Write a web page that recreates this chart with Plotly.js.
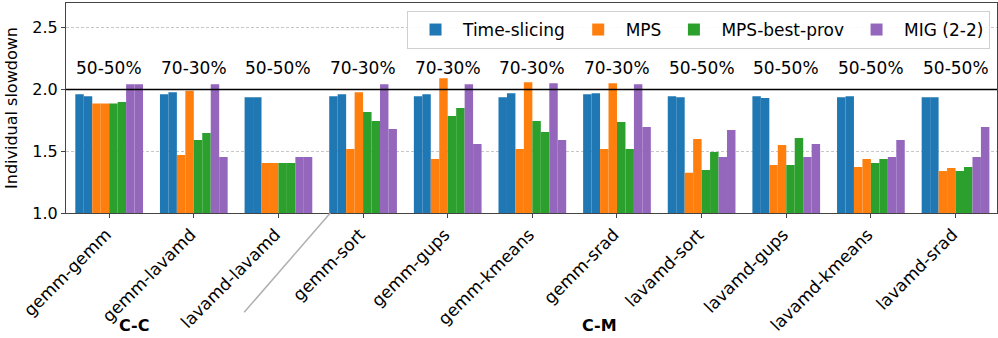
<!DOCTYPE html>
<html>
<head>
<meta charset="utf-8">
<script src="https://cdn.plot.ly/plotly-3.0.1.min.js"></script>
<style>html,body{margin:0;padding:0;background:#fff;}#chart{width:998px;height:338px;}</style>
</head>
<body>
<div id="chart"></div>
<script>
const categories = ["gemm-gemm","gemm-lavamd","lavamd-lavamd","gemm-sort","gemm-gups","gemm-kmeans","gemm-srad","lavamd-sort","lavamd-gups","lavamd-kmeans","lavamd-srad"];
const splits = ["50-50%","70-30%","50-50%","70-30%","70-30%","70-30%","70-30%","50-50%","50-50%","50-50%","50-50%"];
const methods = ["Time-slicing","MPS","MPS-best-prov","MIG (2-2)"];
const colors = ["#1f77b4","#ff7f0e","#2ca02c","#9467bd"];

// each method: [job1 values, job2 values]
const timeSlicing1 = [1.962,1.962,1.938,1.946,1.946,1.938,1.962,1.946,1.946,1.938,1.938];
const timeSlicing2 = [1.946,1.978,1.938,1.962,1.962,1.970,1.970,1.938,1.930,1.946,1.938];
const mps1         = [1.887,1.470,1.405,1.519,1.438,1.519,1.519,1.325,1.389,1.373,1.341];
const mps2         = [1.887,1.989,1.405,1.978,2.091,2.059,2.051,1.599,1.551,1.438,1.365];
const mpsBest1     = [1.887,1.591,1.405,1.817,1.785,1.744,1.736,1.349,1.389,1.405,1.341];
const mpsBest2     = [1.898,1.647,1.405,1.744,1.849,1.655,1.519,1.494,1.607,1.438,1.373];
const mig1         = [2.043,2.043,1.454,2.043,2.043,2.051,2.043,1.454,1.454,1.454,1.454];
const mig2         = [2.043,1.454,1.454,1.680,1.559,1.591,1.696,1.672,1.559,1.591,1.696];

const series = [[timeSlicing1,timeSlicing2],[mps1,mps2],[mpsBest1,mpsBest2],[mig1,mig2]];
const font = "DejaVu Sans, sans-serif";

const traces = [];
series.forEach((pair, m) => {
  pair.forEach((vals, j) => {
    traces.push({
      type: "bar",
      x: categories,
      y: vals,
      name: methods[m],
      legendgroup: methods[m],
      showlegend: j === 0,
      marker: {color: colors[m], line: {width: 0}},
      hoverinfo: "skip"
    });
  });
});

const annotations = categories.map((c, i) => ({
  x: c, xref: "x", y: 2.172, yref: "y", text: splits[i], showarrow: false,
  xanchor: "center", yanchor: "middle", font: {family: font, size: 17, color: "#000"}
}));
annotations.push({x: 0.0731, y: -0.534, xref: "paper", yref: "paper", text: "<b>C-C</b>", showarrow: false, xanchor: "center", yanchor: "middle", font: {family: font, size: 16, color: "#000"}});
annotations.push({x: 0.573, y: -0.534, xref: "paper", yref: "paper", text: "<b>C-M</b>", showarrow: false, xanchor: "center", yanchor: "middle", font: {family: font, size: 16, color: "#000"}});

const layout = {
  width: 998, height: 338,
  margin: {l: 66, r: 1, t: 3, b: 125},
  paper_bgcolor: "#fff", plot_bgcolor: "#fff",
  barmode: "group", bargap: 0.2, bargroupgap: 0,
  font: {family: font, size: 16, color: "#000"},
  xaxis: {
    type: "category", range: [-0.51, 10.49], tickangle: -45,
    ticks: "outside", ticklen: 4, tickcolor: "#444", showgrid: false,
    showline: true, linecolor: "#444", linewidth: 1, mirror: true,
    ticklabelshift: -3,
    tickfont: {family: font, size: 17, color: "#000"}
  },
  yaxis: {
    range: [1.0, 2.7], tickvals: [1.0,1.5,2.0,2.5], tickformat: ".1f",
    ticks: "outside", ticklen: 4, tickcolor: "#444",
    showgrid: true, gridcolor: "#b8b8b8", griddash: "3px,2px", gridwidth: 0.8,
    zeroline: false, showline: true, linecolor: "#444", linewidth: 1, mirror: true,
    tickfont: {family: font, size: 16, color: "#000"},
    title: {text: "Individual slowdown", font: {family: font, size: 16, color: "#000"}, standoff: 10}
  },
  legend: {
    orientation: "h", x: 0.9925, xanchor: "right", y: 0.962, yanchor: "top",
    bgcolor: "rgba(255,255,255,0.9)", bordercolor: "#d0d0d0", borderwidth: 1,
    itemwidth: 45, font: {family: font, size: 17, color: "#000"}, traceorder: "normal"
  },
  shapes: [
    {type: "line", xref: "paper", yref: "y", x0: 0, x1: 1, y0: 2.0, y1: 2.0, line: {color: "#000", width: 1.5}},
    {type: "line", xref: "paper", yref: "paper", x0: 0.1914, y0: -0.473, x1: 0.2839, y1: 0, line: {color: "#b0b0b0", width: 1.5}}
  ],
  annotations: annotations
};

Plotly.newPlot("chart", traces, layout, {displayModeBar: false, staticPlot: true});
</script>
</body>
</html>
